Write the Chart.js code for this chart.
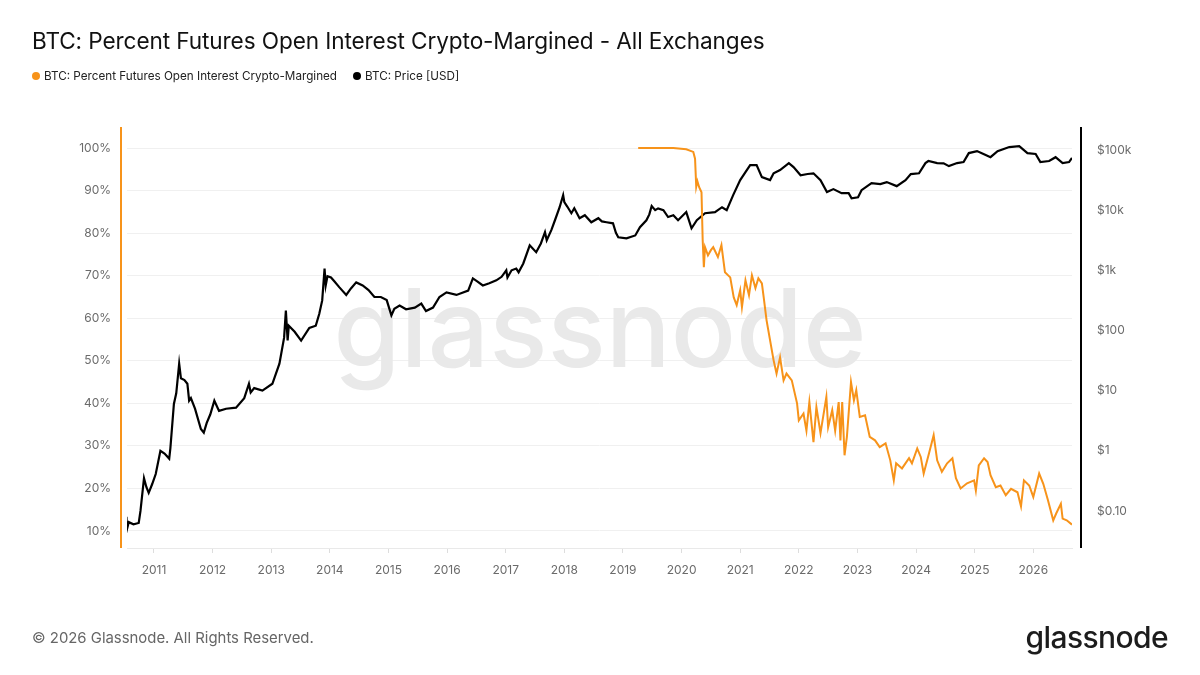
<!DOCTYPE html>
<html lang="en">
<head>
<meta charset="UTF-8" />
<title>BTC: Percent Futures Open Interest Crypto-Margined</title>
<script src="https://cdn.jsdelivr.net/npm/chart.js"></script>
<style>
  body { margin: 0; background: #fff; font-family: Inter, 'Noto Sans', sans-serif; }
  #wrap { position: relative; width: 1200px; height: 675px; overflow: hidden; }
  #chart { position: absolute; left: 0; top: 0; }
  .title { position: absolute; left: 32px; top: 27px; font-size: 22.6px; color: #111; letter-spacing: -0.1px; }
  .legend { position: absolute; top: 69px; font-size: 11.7px; color: #222; display: flex; align-items: center; }
  .dot { width: 8px; height: 8px; border-radius: 50%; margin-right: 4px; }
  .foot { position: absolute; left: 32px; top: 629px; font-size: 14.9px; color: #666; }
  .logo { position: absolute; right: 32px; top: 619px; font-size: 30px; font-weight: 500; color: #1c1c1c; letter-spacing: -0.6px; }
</style>
</head>
<body>
<div id="wrap">
  <canvas id="chart" width="1200" height="675"></canvas>
  <div class="title">BTC: Percent Futures Open Interest Crypto-Margined - All Exchanges</div>
  <div class="legend" style="left:32px"><span class="dot" style="background:#f7931a"></span>BTC: Percent Futures Open Interest Crypto-Margined</div>
  <div class="legend" style="left:353px"><span class="dot" style="background:#000"></span>BTC: Price [USD]</div>
  <div class="foot">© 2026 Glassnode. All Rights Reserved.</div>
  <div class="logo">glassnode</div>
</div>

<script>
  // years on the x axis
  const yearTicks = [2011, 2012, 2013, 2014, 2015, 2016, 2017, 2018, 2019, 2020, 2021, 2022, 2023, 2024, 2025, 2026];
  const pctTicks = [10, 20, 30, 40, 50, 60, 70, 80, 90, 100];
  const priceTicks = [0.1, 1, 10, 100, 1000, 10000, 100000];

  // BTC price (USD)
  const priceYears = [
    2010.53, 2010.54, 2010.57, 2010.65, 2010.74, 2010.77, 2010.83, 2010.87, 2010.91, 2010.97,
    2011.03, 2011.11, 2011.18, 2011.26, 2011.28, 2011.34, 2011.38, 2011.43, 2011.46, 2011.52,
    2011.57, 2011.60, 2011.63, 2011.70, 2011.80, 2011.85, 2011.90, 2011.96, 2012.03, 2012.11,
    2012.23, 2012.40, 2012.54, 2012.62, 2012.65, 2012.71, 2012.85, 2013.02, 2013.14, 2013.22,
    2013.25, 2013.28, 2013.30, 2013.40, 2013.51, 2013.65, 2013.76, 2013.82, 2013.87, 2013.91,
    2013.93, 2013.96, 2014.02, 2014.08, 2014.16, 2014.28, 2014.36, 2014.45, 2014.56, 2014.66,
    2014.76, 2014.87, 2014.97, 2015.05, 2015.10, 2015.19, 2015.30, 2015.45, 2015.56, 2015.64,
    2015.76, 2015.87, 2015.99, 2016.16, 2016.36, 2016.44, 2016.52, 2016.61, 2016.72, 2016.84,
    2016.93, 2017.01, 2017.03, 2017.10, 2017.18, 2017.22, 2017.30, 2017.41, 2017.52, 2017.60,
    2017.67, 2017.70, 2017.78, 2017.84, 2017.92, 2017.98, 2018.00, 2018.05, 2018.12, 2018.17,
    2018.26, 2018.35, 2018.46, 2018.58, 2018.64, 2018.72, 2018.83, 2018.88, 2018.92, 2019.06,
    2019.21, 2019.29, 2019.40, 2019.45, 2019.49, 2019.55, 2019.60, 2019.69, 2019.77, 2019.86,
    2019.94, 2020.08, 2020.17, 2020.26, 2020.40, 2020.57, 2020.69, 2020.77, 2020.88, 2021.00,
    2021.09, 2021.17, 2021.28, 2021.37, 2021.51, 2021.57, 2021.68, 2021.83, 2021.91, 2022.03,
    2022.15, 2022.25, 2022.37, 2022.48, 2022.59, 2022.73, 2022.85, 2022.90, 2023.01, 2023.07,
    2023.24, 2023.39, 2023.50, 2023.67, 2023.82, 2023.91, 2024.05, 2024.16, 2024.21, 2024.36,
    2024.47, 2024.56, 2024.70, 2024.81, 2024.90, 2025.04, 2025.15, 2025.27, 2025.39, 2025.59,
    2025.76, 2025.90, 2026.04, 2026.12, 2026.27, 2026.38, 2026.50, 2026.61, 2026.66
  ];
  const priceValues = [
    0.08, 0.05, 0.065, 0.06, 0.063, 0.1, 0.35, 0.25, 0.2, 0.28,
    0.41, 1.0, 0.9, 0.74, 1.1, 6, 9, 28, 16, 15,
    13, 6.8, 7.5, 5, 2.3, 2.0, 2.9, 4, 6.8, 4.6,
    5, 5.2, 7.5, 13, 9.3, 11, 10, 13, 28, 76,
    215, 68, 120, 95, 68, 110, 120, 190, 316, 1070,
    560, 800, 760, 650, 525, 390, 500, 630, 560, 470,
    360, 360, 320, 178, 230, 260, 225, 240, 280, 210,
    240, 360, 430, 390, 460, 735, 650, 560, 610, 680,
    780, 1000, 760, 1000, 1070, 930, 1300, 2600, 2000, 2800,
    4300, 3160, 4700, 6800, 11200, 17800, 13600, 11500, 8900, 10800,
    7350, 8250, 6300, 7350, 6500, 6300, 6050, 4200, 3550, 3400,
    3800, 5200, 6800, 8500, 11700, 10000, 10700, 10000, 7700, 8250,
    6800, 9300, 5000, 6800, 8900, 9300, 11200, 10000, 17800, 31600,
    43000, 56000, 56000, 35500, 31600, 41000, 46400, 60700, 52000, 38000,
    40000, 41000, 31600, 20000, 22400, 19200, 19200, 15800, 16400, 21500,
    28200, 27100, 29300, 25100, 31600, 39800, 41000, 60700, 65600, 60700,
    60000, 54000, 60700, 63000, 89000, 96000, 86000, 76000, 96000, 112000,
    116000, 89000, 86000, 63000, 65600, 76000, 60700, 63000, 74000
  ];

  // percent of futures OI that is crypto-margined
  const oiYears = [
    2019.26, 2019.86, 2020.08, 2020.20, 2020.23, 2020.25, 2020.27, 2020.30, 2020.34, 2020.36,
    2020.38, 2020.40, 2020.45, 2020.50, 2020.54, 2020.62, 2020.68, 2020.74, 2020.83, 2020.89,
    2020.94, 2021.00, 2021.03, 2021.09, 2021.15, 2021.20, 2021.26, 2021.31, 2021.37, 2021.40,
    2021.45, 2021.51, 2021.57, 2021.62, 2021.68, 2021.74, 2021.79, 2021.88, 2021.97, 2022.00,
    2022.08, 2022.13, 2022.18, 2022.25, 2022.30, 2022.37, 2022.47, 2022.50, 2022.57, 2022.62,
    2022.68, 2022.71, 2022.74, 2022.78, 2022.82, 2022.89, 2022.94, 2022.98, 2023.04, 2023.13,
    2023.21, 2023.30, 2023.38, 2023.48, 2023.56, 2023.62, 2023.66, 2023.76, 2023.88, 2023.93,
    2024.02, 2024.08, 2024.13, 2024.22, 2024.30, 2024.36, 2024.44, 2024.53, 2024.62, 2024.68,
    2024.76, 2024.87, 2024.99, 2025.02, 2025.07, 2025.16, 2025.22, 2025.27, 2025.36, 2025.44,
    2025.53, 2025.62, 2025.73, 2025.79, 2025.84, 2025.93, 2026.00, 2026.10, 2026.17, 2026.25,
    2026.34, 2026.39, 2026.47, 2026.50, 2026.57, 2026.66
  ];
  const oiValues = [
    100, 100, 99.7, 99.1, 97.5, 90.9, 92.2, 90.8, 89.6, 78.4,
    72, 76.7, 74.8, 76, 76.7, 74.4, 77.2, 70.8, 69.6, 64.9,
    63.1, 66.6, 62.6, 68.9, 65.4, 70.1, 67.1, 69.4, 68.2, 65,
    59.5, 54.8, 50.1, 47, 50.8, 45.4, 47, 45.4, 40, 36,
    37.6, 33.6, 40.3, 30.9, 39.1, 33, 41.5, 34.4, 38.4, 33.6,
    40.3, 31.3, 40.3, 27.8, 32.1, 45, 40.7, 43.1, 36.8, 37.2,
    32.1, 31.3, 29.7, 30.6, 26.6, 21.9, 25.9, 24.7, 27.1, 25.9,
    29.4, 27.4, 23.5, 28.2, 32.5, 26.6, 23.9, 25.9, 27.1, 22.4,
    20, 21.2, 21.9, 19.5, 25.4, 27.1, 26.2, 23.1, 20.3, 20.7,
    18.4, 19.9, 19.1, 15.8, 21.9, 20.7, 18, 23.5, 21.1, 17.2,
    12.5, 14.1, 16.4, 12.9, 12.5, 11.5
  ];

  const ORANGE = '#f7931a';

  const toPoints = (xs, ys) => xs.map((x, i) => ({ x: x, y: ys[i] }));

  const fmtPrice = v => {
    if (v >= 1000) return '$' + (v / 1000) + 'k';
    if (v >= 1) return '$' + v;
    return '$' + v.toFixed(2);
  };

  // watermark behind the lines, coloured axis lines beside the plot
  const decor = {
    id: 'decor',
    beforeDatasetsDraw(chart) {
      const ctx = chart.ctx;
      ctx.save();
      ctx.font = '500 100px Inter';
      const w = ctx.measureText('glassnode').width;
      ctx.font = '500 ' + (100 * 533 / w) + 'px Inter';
      ctx.fillStyle = '#e9e9e9';
      ctx.textAlign = 'center';
      ctx.fillText('glassnode', 600, 367);
      ctx.restore();
    },
    afterDraw(chart) {
      const { ctx, chartArea: a } = chart;
      ctx.save();
      ctx.lineWidth = 2;
      ctx.strokeStyle = ORANGE;
      ctx.beginPath();
      ctx.moveTo(a.left - 6, a.top);
      ctx.lineTo(a.left - 6, a.bottom);
      ctx.stroke();
      ctx.strokeStyle = '#000';
      ctx.beginPath();
      ctx.moveTo(a.right + 9, a.top);
      ctx.lineTo(a.right + 9, a.bottom);
      ctx.stroke();
      ctx.restore();
    }
  };

  Chart.defaults.font.family = 'Inter';

  new Chart(document.getElementById('chart'), {
    type: 'line',
    data: {
      datasets: [
        {
          label: 'BTC: Percent Futures Open Interest Crypto-Margined',
          data: toPoints(oiYears, oiValues),
          yAxisID: 'yPct',
          borderColor: ORANGE,
          borderWidth: 2,
          pointRadius: 0,
          order: 0
        },
        {
          label: 'BTC: Price [USD]',
          data: toPoints(priceYears, priceValues),
          yAxisID: 'yPrice',
          borderColor: '#000',
          borderWidth: 2.2,
          pointRadius: 0,
          order: 1
        }
      ]
    },
    options: {
      responsive: false,
      animation: false,
      layout: { padding: { top: 127, left: 0, right: 0, bottom: 0 } },
      plugins: { legend: { display: false }, tooltip: { enabled: false } },
      scales: {
        x: {
          type: 'linear',
          min: 2010.54,
          max: 2026.66,
          afterBuildTicks: s => { s.ticks = yearTicks.map(v => ({ value: v })); },
          afterFit: s => { s.height = 127; },
          grid: { drawOnChartArea: false, drawTicks: true, tickLength: 5, color: '#dddddd' },
          border: { display: true, color: '#e9e9e9' },
          ticks: { padding: 10, color: '#6b6b6b', font: { size: 12 }, callback: v => String(v), maxRotation: 0 }
        },
        yPct: {
          type: 'linear',
          position: 'left',
          min: 6,
          max: 104.95,
          afterBuildTicks: s => { s.ticks = pctTicks.map(v => ({ value: v })); },
          afterFit: s => { s.width = 127; },
          grid: { color: '#f0f0f0', drawTicks: false },
          border: { display: false },
          ticks: { padding: 16, color: '#6b6b6b', font: { size: 12 }, callback: v => v + '%' }
        },
        yPrice: {
          type: 'logarithmic',
          position: 'right',
          min: 0.02416,
          max: 241500,
          afterBuildTicks: s => { s.ticks = priceTicks.map(v => ({ value: v })); },
          afterFit: s => { s.width = 128; },
          grid: { display: false },
          border: { display: false },
          ticks: { padding: 17, color: '#6b6b6b', font: { size: 12 }, callback: fmtPrice }
        }
      }
    },
    plugins: [decor]
  });
</script>
</body>
</html>
